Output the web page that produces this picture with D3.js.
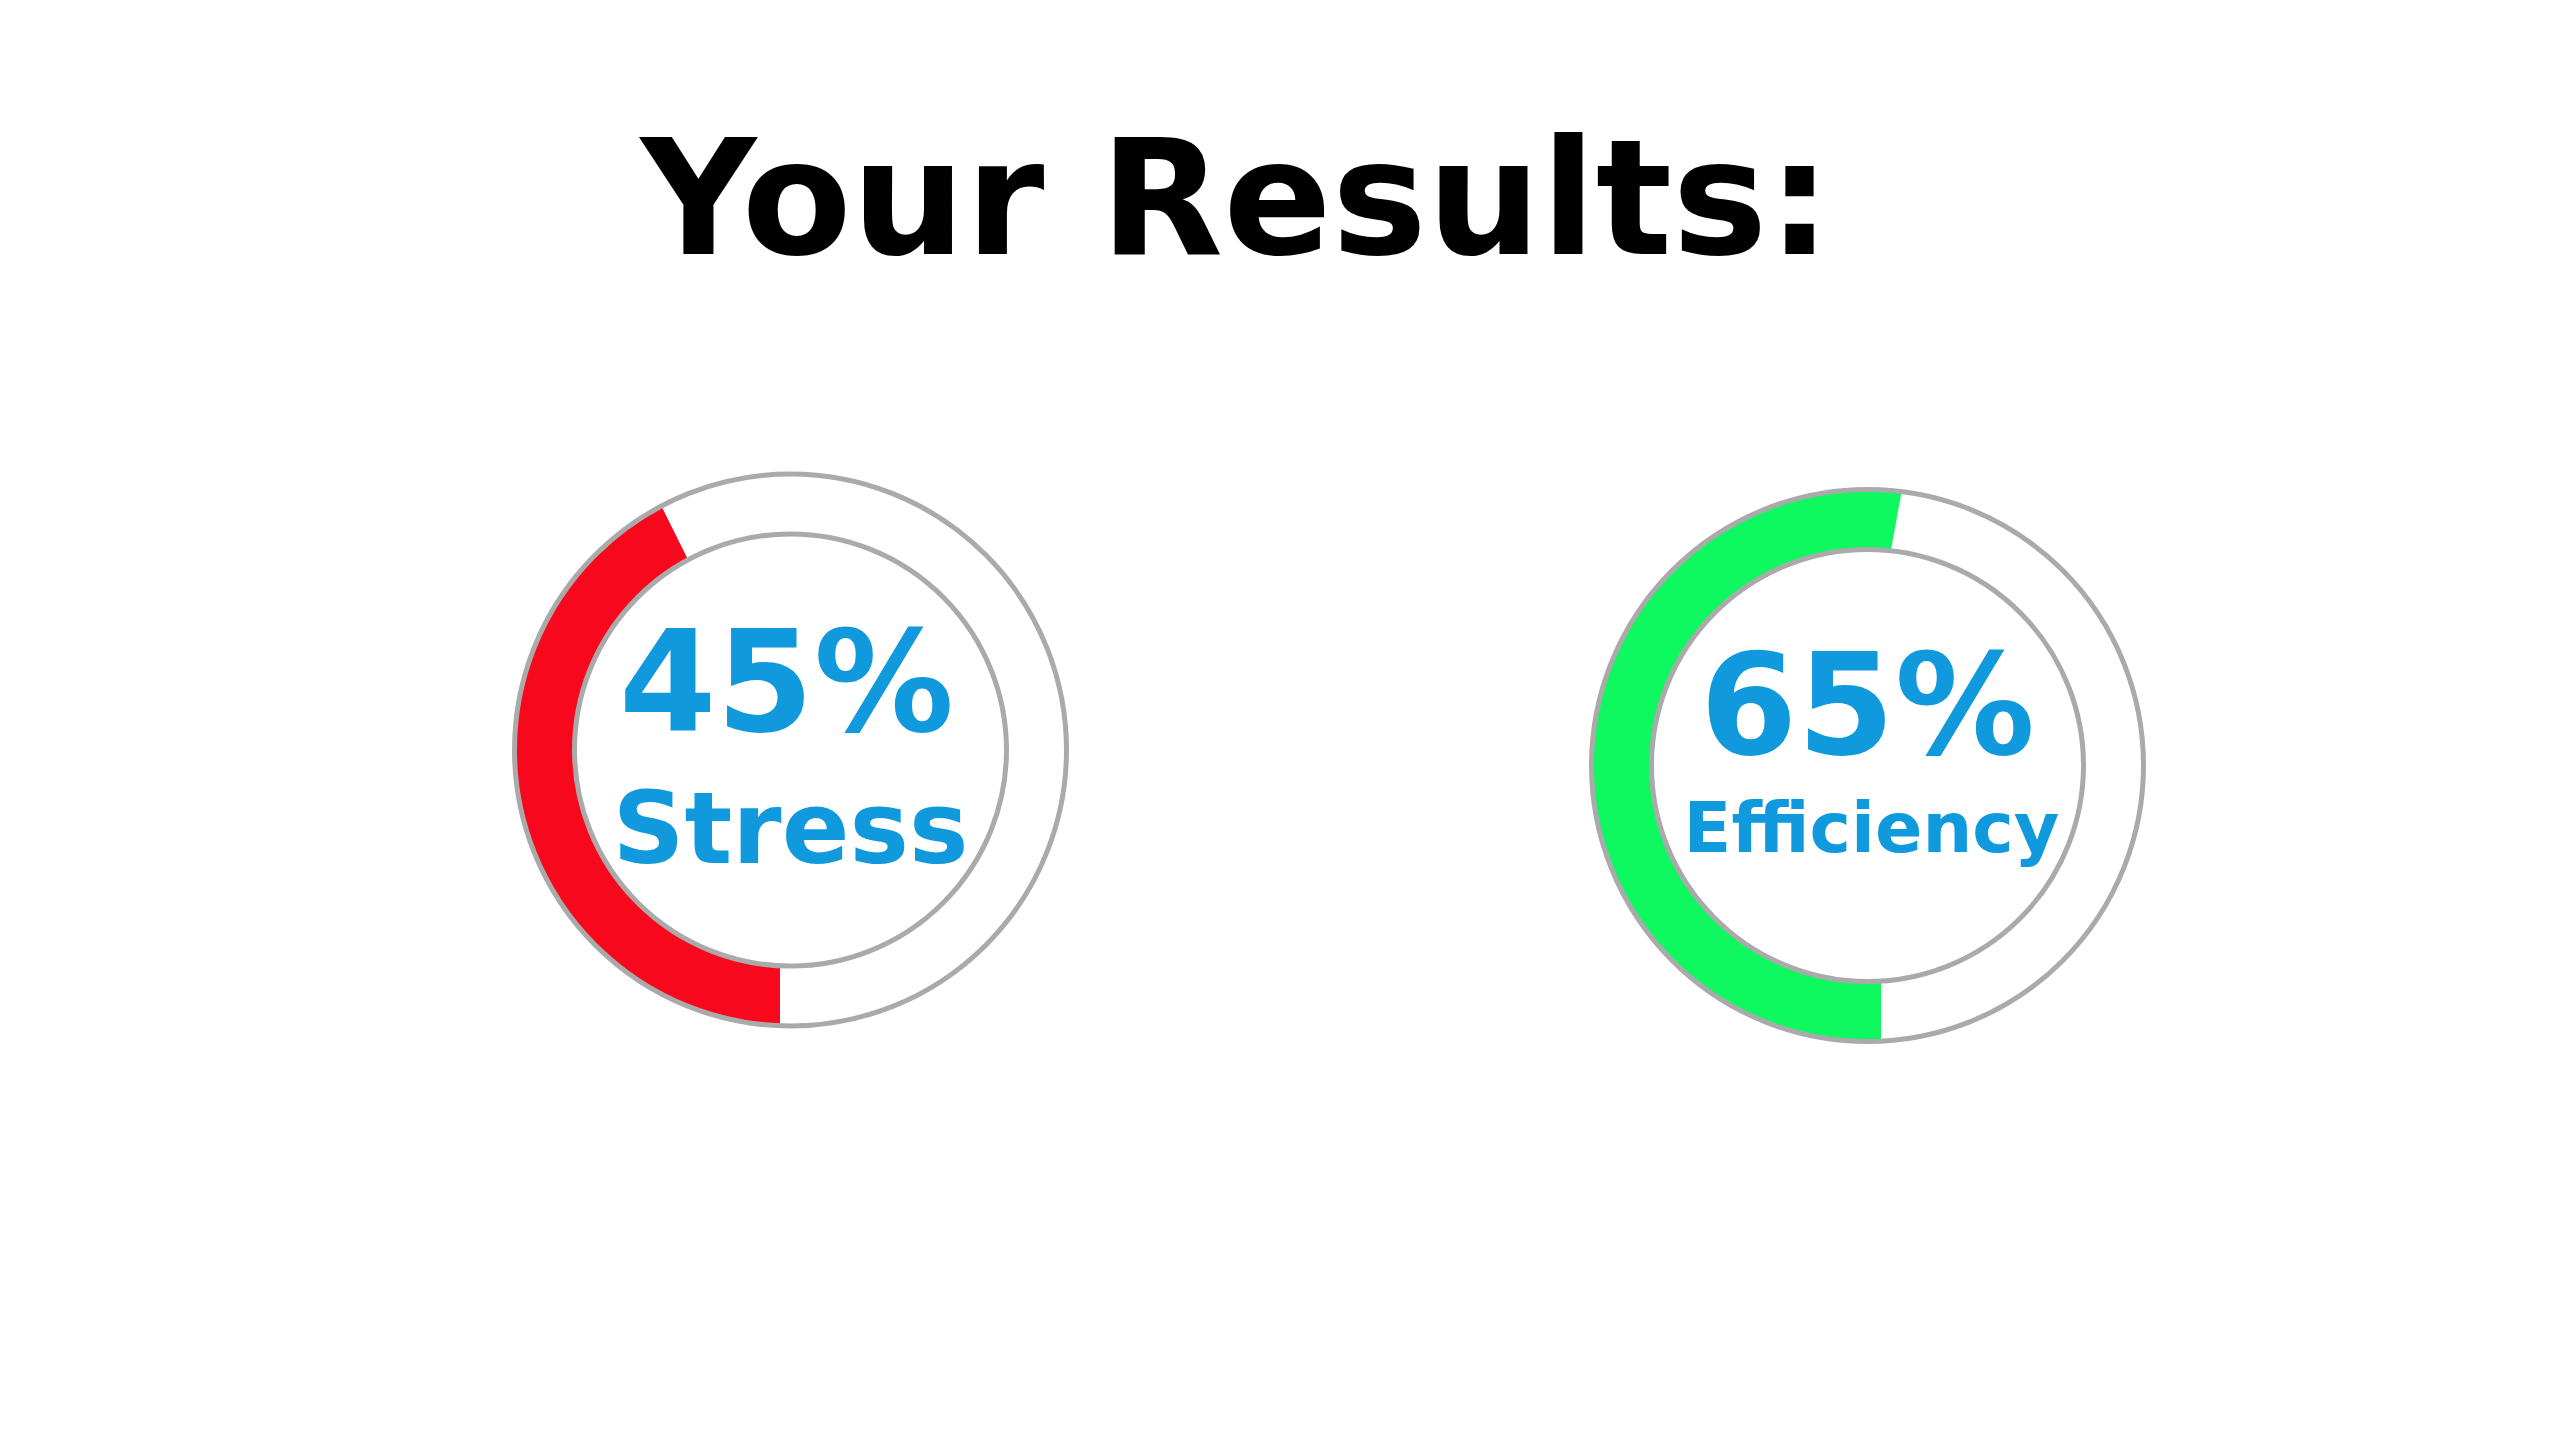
<!DOCTYPE html>
<html>
<head>
<meta charset="utf-8">
<script src="https://cdn.jsdelivr.net/npm/d3@7"></script>
<style>
  html, body { margin: 0; padding: 0; background: #ffffff; }
  svg { display: block; }
</style>
</head>
<body>
<script>
// ---- data ----
const title = "Your Results:";
const labels = ["Stress", "Efficiency"];
const values = [45, 65];                 // shown percentages
const arcStartDeg = [182.45, 176.85];    // filled arc start (clockwise from 12 o'clock, at mid-ring)
const arcEndOuterDeg = [332.1, 367.1];   // filled arc end, outer edge
const arcEndInnerDeg = [331.7, 366.2];   // filled arc end, inner edge
const arcColors = ["#f7081c", "#0df95f"];

// ---- layout ----
const W = 2560, H = 1440;
const centers = [[790.5, 750], [1867.5, 765.5]];
const labelSizes = [100, 70];
const labelDy = [113, 86];
const labelDx = [0, 4];
const valueDy = [-19, -11.5];
const valueDx = [-4, 0];
const rOuter = 276, rInner = 216, rMid = (rOuter + rInner) / 2;

const svg = d3.select("body").append("svg")
  .attr("width", W).attr("height", H);

svg.append("text")
  .attr("x", 1236).attr("y", 254)
  .attr("text-anchor", "middle")
  .style("font-family", "'DejaVu Sans', sans-serif")
  .style("font-weight", "bold")
  .style("font-size", "160px")
  .attr("fill", "#000")
  .text(title);

const rad = d3.scaleLinear().domain([0, 360]).range([0, 2 * Math.PI]);

// ring segment whose start edge is a vertical cut (as in the reference)
function gaugePath(startDeg, endOuterDeg, endInnerDeg) {
  const dx = rMid * Math.sin(rad(startDeg));
  const aO = Math.PI - Math.asin(dx / rOuter);
  const aI = Math.PI - Math.asin(dx / rInner);
  const eO = rad(endOuterDeg), eI = rad(endInnerDeg);
  const p = d3.path();
  p.moveTo(rInner * Math.sin(aI), -rInner * Math.cos(aI));
  p.lineTo(rOuter * Math.sin(aO), -rOuter * Math.cos(aO));
  p.arc(0, 0, rOuter, aO - Math.PI / 2, eO - Math.PI / 2, false);
  p.lineTo(rInner * Math.sin(eI), -rInner * Math.cos(eI));
  p.arc(0, 0, rInner, eI - Math.PI / 2, aI - Math.PI / 2, true);
  p.closePath();
  return p.toString();
}

const gauges = svg.selectAll("g.gauge")
  .data(values.map((v, i) => ({ v, i })))
  .join("g")
  .attr("class", "gauge")
  .attr("transform", d => `translate(${centers[d.i][0]},${centers[d.i][1]})`);

gauges.append("path")
  .attr("d", d => gaugePath(arcStartDeg[d.i], arcEndOuterDeg[d.i], arcEndInnerDeg[d.i]))
  .attr("fill", d => arcColors[d.i]);

[rOuter, rInner].forEach(r => {
  gauges.append("circle")
    .attr("r", r)
    .attr("fill", "none")
    .attr("stroke", "#aaaaaa")
    .attr("stroke-width", 5);
});

gauges.append("text")
  .attr("text-anchor", "middle")
  .attr("x", d => valueDx[d.i])
  .attr("y", d => valueDy[d.i])
  .style("font-family", "'DejaVu Sans', sans-serif")
  .style("font-weight", "bold")
  .style("font-size", "140px")
  .attr("fill", "#1199de")
  .text(d => d.v + "%");

gauges.append("text")
  .attr("text-anchor", "middle")
  .attr("x", d => labelDx[d.i])
  .attr("y", d => labelDy[d.i])
  .style("font-family", "'DejaVu Sans', sans-serif")
  .style("font-weight", "bold")
  .style("font-size", d => labelSizes[d.i] + "px")
  .attr("fill", "#1199de")
  .text(d => labels[d.i]);
</script>
</body>
</html>
